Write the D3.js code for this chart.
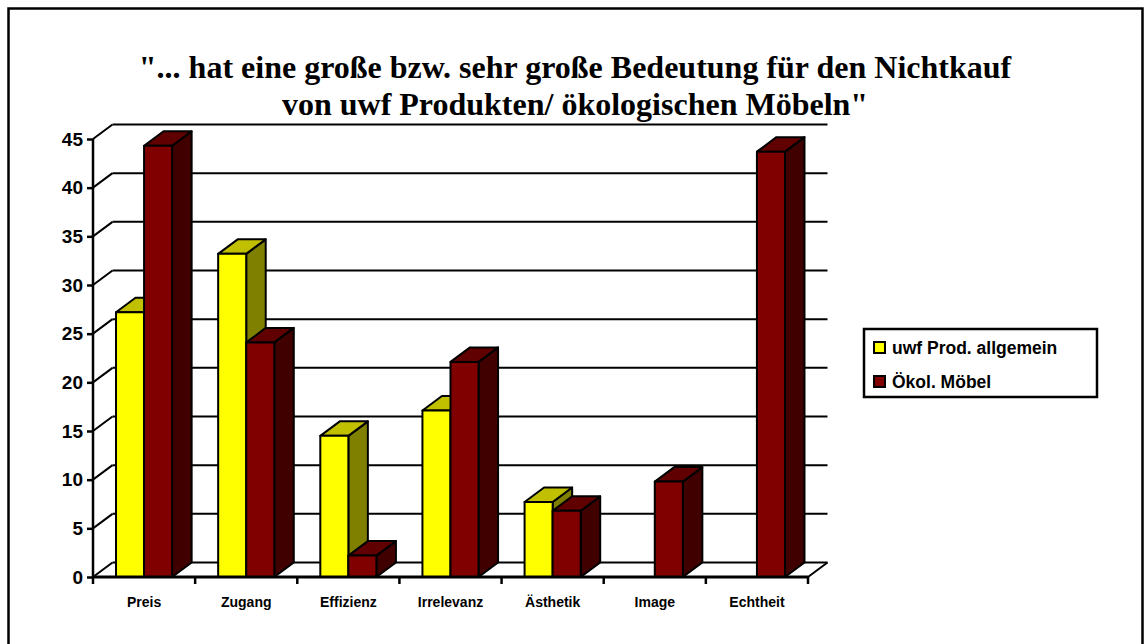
<!DOCTYPE html>
<html>
<head>
<meta charset="utf-8">
<script src="https://cdn.jsdelivr.net/npm/d3@7"></script>
<style>
  body { margin: 0; background: #fff; }
  svg { display: block; }
</style>
</head>
<body>
<svg id="chart" width="1144" height="644"></svg>
<script>
// data
const categories = ["Preis", "Zugang", "Effizienz", "Irrelevanz", "Ästhetik", "Image", "Echtheit"];
const seriesNames = ["uwf Prod. allgemein", "Ökol. Möbel"];
const uwfValues = [27.2, 33.2, 14.5, 17.1, 7.7, null, null];
const moebelValues = [44.3, 24.1, 2.2, 22.1, 6.8, 9.8, 43.7];
const yTicks = [0, 5, 10, 15, 20, 25, 30, 35, 40, 45];
const titleLines = ["\"... hat eine große bzw. sehr große Bedeutung für den Nichtkauf", "von uwf Produkten/ ökologischen Möbeln\""];

const colors = [
  { front: "#ffff00", top: "#c0c000", side: "#808000" },
  { front: "#800000", top: "#600000", side: "#400000" }
];

const svg = d3.select("#chart");
const dx = 19.5, dy = -14.5; // depth offset

// outer frame
svg.append("rect")
  .attr("x", 8.5).attr("y", 8.5)
  .attr("width", 1134).attr("height", 680)
  .attr("fill", "none").attr("stroke", "#000").attr("stroke-width", 2.5);

const x = d3.scaleBand().domain(categories).range([93, 808]).paddingInner(0).paddingOuter(0);
const xs = d3.scaleBand().domain([0, 1]).range([0, x.bandwidth()]).paddingInner(0).paddingOuter(0.82);
const y = d3.scaleLinear().domain([0, 45]).range([577, 139]);

const x0 = x.range()[0], x1 = x.range()[1];

// back wall gridlines + left wall diagonals
const grid = svg.append("g").attr("stroke", "#000").attr("stroke-width", 2).attr("fill", "none");
yTicks.forEach(t => {
  grid.append("line")
    .attr("x1", x0 + dx).attr("x2", x1 + dx)
    .attr("y1", y(t) + dy).attr("y2", y(t) + dy);
  grid.append("line")
    .attr("x1", x0).attr("x2", x0 + dx)
    .attr("y1", y(t)).attr("y2", y(t) + dy);
});
// floor right edge
grid.append("line")
  .attr("x1", x1).attr("x2", x1 + dx)
  .attr("y1", y(0)).attr("y2", y(0) + dy);

// bars, left to right
const bars = [];
categories.forEach((c, i) => {
  [uwfValues[i], moebelValues[i]].forEach((v, s) => {
    if (v == null) return;
    bars.push({ c, s, v });
  });
});

const barG = svg.append("g").attr("stroke", "#000").attr("stroke-width", 2).attr("stroke-linejoin", "round");
bars.forEach(b => {
  const bx = x(b.c) + xs(b.s);
  const bw = xs.bandwidth();
  const yt = y(b.v), yb = y(0);
  const col = colors[b.s];
  // side
  barG.append("path")
    .attr("d", `M${bx + bw},${yt} L${bx + bw + dx},${yt + dy} L${bx + bw + dx},${yb + dy} L${bx + bw},${yb} Z`)
    .attr("fill", col.side);
  // top
  barG.append("path")
    .attr("d", `M${bx},${yt} L${bx + dx},${yt + dy} L${bx + bw + dx},${yt + dy} L${bx + bw},${yt} Z`)
    .attr("fill", col.top);
  // front
  barG.append("rect")
    .attr("x", bx).attr("y", yt)
    .attr("width", bw).attr("height", yb - yt)
    .attr("fill", col.front);
});

// y axis
const yAxis = svg.append("g")
  .attr("transform", `translate(${x0},0)`)
  .call(d3.axisLeft(y).tickValues(yTicks).tickSize(6).tickPadding(4).tickFormat(d3.format("d")));
yAxis.select(".domain").attr("stroke-width", 2.5).attr("d", `M0,${y(45)}V${y(0)}`);
yAxis.selectAll(".tick line").attr("stroke-width", 2.5);
yAxis.selectAll("text")
  .attr("font-family", "Liberation Sans, Arial, sans-serif")
  .attr("font-weight", "bold").attr("font-size", 19).attr("fill", "#000");

// x axis
const xAxis = svg.append("g")
  .attr("transform", `translate(0,${y(0)})`)
  .call(d3.axisBottom(x).tickSize(0).tickPadding(20));
xAxis.select(".domain").attr("stroke-width", 3).attr("d", `M${x0},0H${x1}`);
xAxis.selectAll("text")
  .attr("font-family", "Liberation Sans, Arial, sans-serif")
  .attr("font-weight", "bold").attr("font-size", 14).attr("fill", "#000");
// category boundary ticks
xAxis.selectAll(".bound")
  .data(categories.concat([null]))
  .join("line")
  .attr("class", "bound")
  .attr("x1", (d, i) => x0 + i * x.step()).attr("x2", (d, i) => x0 + i * x.step())
  .attr("y1", 0).attr("y2", 7)
  .attr("stroke", "#000").attr("stroke-width", 2.5);

// title
svg.append("g").selectAll("text")
  .data(titleLines)
  .join("text")
  .attr("x", 575).attr("y", (d, i) => 78 + i * 37)
  .attr("text-anchor", "middle")
  .attr("font-family", "Liberation Serif, Times New Roman, serif")
  .attr("font-weight", "bold").attr("font-size", 32)
  .text(d => d);

// legend
const lg = svg.append("g").attr("transform", "translate(864,329)");
lg.append("rect").attr("width", 233).attr("height", 68)
  .attr("fill", "#fff").attr("stroke", "#000").attr("stroke-width", 2.5);
seriesNames.forEach((n, i) => {
  const row = lg.append("g").attr("transform", `translate(10,${18 + i * 34})`);
  row.append("rect").attr("x", 0).attr("y", -5).attr("width", 11).attr("height", 11)
    .attr("fill", colors[i].front).attr("stroke", "#000").attr("stroke-width", 2);
  row.append("text").attr("x", 18).attr("y", 7)
    .attr("font-family", "Liberation Sans, Arial, sans-serif")
    .attr("font-weight", "bold").attr("font-size", 17.5)
    .text(n);
});
</script>
</body>
</html>
